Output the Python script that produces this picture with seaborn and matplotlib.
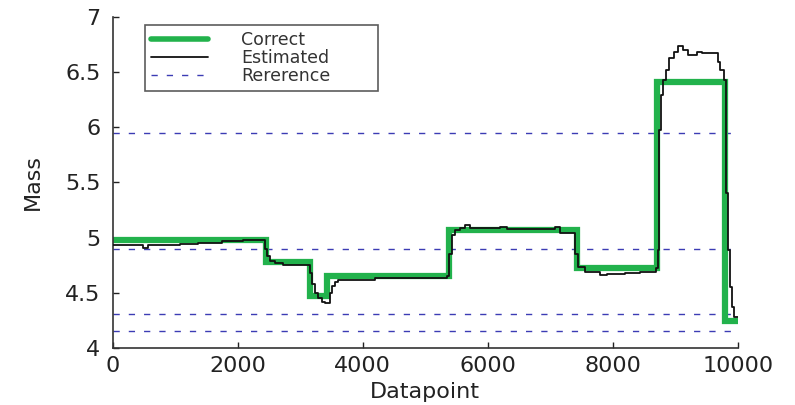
import matplotlib
matplotlib.use("Agg")
import matplotlib.pyplot as plt
import seaborn as sns
import pandas as pd
from matplotlib.lines import Line2D

# True mass profile (piecewise constant, held until next breakpoint)
correct_x = [0, 2450, 3150, 3430, 5380, 7430, 8700, 9790, 10000]
correct_y = [4.98, 4.78, 4.47, 4.65, 5.07, 4.72, 6.41, 4.24, 4.24]

# Estimated mass trace (breakpoints of the staircase)
est_x = [0, 480, 560, 1070, 1360, 1740, 2080, 2430, 2470, 2510, 2590, 2720,
         3070, 3150, 3190, 3230, 3280, 3340, 3390, 3470, 3500, 3550, 3600,
         4190, 4700, 5340, 5380, 5420, 5470, 5550, 5630, 5720, 6190, 6300,
         7000, 7070, 7150, 7360, 7400, 7440, 7550, 7790, 7900, 8190, 8430,
         8690, 8720, 8740, 8770, 8800, 8850, 8900, 8980, 9040, 9120, 9200,
         9350, 9420, 9600, 9680, 9720, 9780, 9810, 9840, 9870, 9900, 9940,
         10000]
est_y = [4.93, 4.91, 4.93, 4.94, 4.95, 4.97, 4.975, 4.90, 4.83, 4.79, 4.77, 4.75,
         4.75, 4.68, 4.58, 4.50, 4.45, 4.42, 4.41, 4.50, 4.56, 4.60, 4.62,
         4.63, 4.635, 4.65, 4.85, 5.02, 5.07, 5.09, 5.11, 5.09, 5.10, 5.08,
         5.08, 5.10, 5.04, 5.04, 4.85, 4.73, 4.69, 4.66, 4.67, 4.68, 4.69,
         4.72, 4.89, 5.98, 6.29, 6.43, 6.52, 6.63, 6.68, 6.74, 6.70, 6.66,
         6.68, 6.67, 6.67, 6.59, 6.52, 6.43, 5.40, 4.89, 4.55, 4.37, 4.28,
         4.28]

# Reference mass levels
reference_levels = [5.95, 4.90, 4.31, 4.15]

x_ticks = [0, 2000, 4000, 6000, 8000, 10000]
y_ticks = [4, 4.5, 5, 5.5, 6, 6.5, 7]
y_tick_labels = ["4", "4.5", "5", "5.5", "6", "6.5", "7"]

sns.set_theme(style="ticks")
plt.rcParams["font.family"] = ["DejaVu Sans"]

GREEN = "#22b24c"
BLUE = "#3c3cb4"

fig = plt.figure(figsize=(7.95, 4.05), dpi=100)
ax = fig.add_axes([0.142, 0.141, 0.786, 0.817])

for lvl in reference_levels:
    ax.axhline(lvl, color=BLUE, lw=1.0, dashes=(4.5, 6.5), zorder=1)

df_correct = pd.DataFrame({"x": correct_x, "y": correct_y})
df_est = pd.DataFrame({"x": est_x, "y": est_y})

sns.lineplot(data=df_correct, x="x", y="y", ax=ax, color=GREEN, lw=4.5,
             drawstyle="steps-post", estimator=None, sort=False, zorder=2,
             solid_joinstyle="miter")
sns.lineplot(data=df_est, x="x", y="y", ax=ax, color="#111111", lw=1.3,
             drawstyle="steps-post", estimator=None, sort=False, zorder=3)

ax.set_xlim(0, 10000)
ax.set_ylim(4, 7)
ax.set_xticks(x_ticks)
ax.set_xticklabels([str(t) for t in x_ticks])
ax.set_yticks(y_ticks)
ax.set_yticklabels(y_tick_labels)

ax.tick_params(direction="in", length=4, width=1, labelsize=16,
               colors="#222222")
ax.tick_params(axis="y", pad=9)
ax.tick_params(axis="x", pad=6)
for side in ("top", "right"):
    ax.spines[side].set_visible(False)
for side in ("left", "bottom"):
    ax.spines[side].set_color("#333333")
    ax.spines[side].set_linewidth(1.2)

ax.set_xlabel("Datapoint", fontsize=16, color="#222222")
ax.set_ylabel("Mass", fontsize=16, color="#222222")
ax.xaxis.set_label_coords(0.5, -0.103)
ax.yaxis.set_label_coords(-0.112, 0.5)

handles = [
    Line2D([], [], color=GREEN, lw=4),
    Line2D([], [], color="#111111", lw=1.3),
    Line2D([], [], color=BLUE, lw=1.0, dashes=(4.5, 6.5)),
]
leg = ax.legend(handles, ["Correct", "Estimated", "Rererence"],
                loc="upper left", bbox_to_anchor=(0.051, 0.975, 0.373, 0.0),
                mode="expand",
                fontsize=12.5, frameon=True, fancybox=False,
                handlelength=3.3, handletextpad=1.9, labelspacing=0.0,
                borderpad=0.35, borderaxespad=0)
leg.get_frame().set_edgecolor("#333333")
leg.get_frame().set_linewidth(1.2)
for t in leg.get_texts():
    t.set_color("#333333")

fig.savefig("out.png", dpi=100)
